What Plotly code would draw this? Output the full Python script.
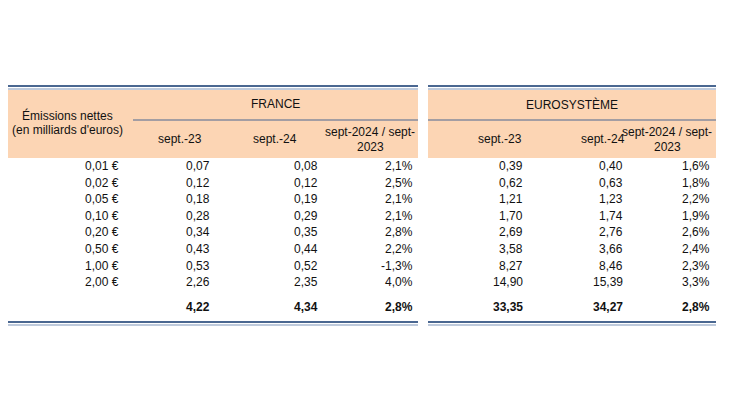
import plotly.graph_objects as go

denoms = ["0,01 €", "0,02 €", "0,05 €", "0,10 €", "0,20 €", "0,50 €", "1,00 €", "2,00 €"]
fr_23 = ["0,07", "0,12", "0,18", "0,28", "0,34", "0,43", "0,53", "2,26"]
fr_24 = ["0,08", "0,12", "0,19", "0,29", "0,35", "0,44", "0,52", "2,35"]
fr_var = ["2,1%", "2,5%", "2,1%", "2,1%", "2,8%", "2,2%", "-1,3%", "4,0%"]
eu_23 = ["0,39", "0,62", "1,21", "1,70", "2,69", "3,58", "8,27", "14,90"]
eu_24 = ["0,40", "0,63", "1,23", "1,74", "2,76", "3,66", "8,46", "15,39"]
eu_var = ["1,6%", "1,8%", "2,2%", "1,9%", "2,6%", "2,4%", "2,3%", "3,3%"]
totals = ["4,22", "4,34", "2,8%", "33,35", "34,27", "2,8%"]

FONT = "Liberation Sans, Arial, sans-serif"
PEACH = "#FCD5B4"
DARK = "#4A6791"
LIGHT = "#A9B9D0"

fig = go.Figure()
shapes = []
ann = []

def txt(x, y, s, anchor="center", bold=False):
    ann.append(dict(x=x, y=y, text=f"<b>{s}</b>" if bold else s, xanchor=anchor, yanchor="middle",
                    showarrow=False, font=dict(family=FONT, size=12, color="#111")))

blocks = [(2, 418), (428, 716)]
for x0, x1 in blocks:
    shapes.append(dict(type="rect", x0=x0, x1=x1, y0=90, y1=158, fillcolor=PEACH, line_width=0, layer="below"))
    for y in (86, 322):
        shapes.append(dict(type="line", x0=x0, x1=x1, y0=y, y1=y, line=dict(color=DARK, width=2)))
        shapes.append(dict(type="line", x0=x0, x1=x1, y0=y + 3, y1=y + 3, line=dict(color=LIGHT, width=1.5)))
shapes.append(dict(type="line", x0=133, x1=418, y0=120, y1=120, line=dict(color=DARK, width=1)))
shapes.append(dict(type="line", x0=428, x1=716, y0=120, y1=120, line=dict(color=DARK, width=1)))

txt(67, 115, "Émissions nettes")
txt(67, 130, "(en milliards d'euros)")
txt(275, 104, "FRANCE")
txt(572, 104, "EUROSYSTÈME")
txt(180, 139, "sept.-23")
txt(275, 139, "sept.-24")
txt(370, 132, "sept-2024 / sept-")
txt(370, 147, "2023")
txt(500, 139, "sept.-23")
txt(603, 139, "sept.-24")
txt(667, 132, "sept-2024 / sept-")
txt(667, 147, "2023")

col_x = [212, 320, 415, 525, 625, 712]
cols = [fr_23, fr_24, fr_var, eu_23, eu_24, eu_var]
for i, d in enumerate(denoms):
    y = 166 + i * 16.6
    txt(121, y, d, "right")
    for cx, c in zip(col_x, cols):
        txt(cx, y, c[i], "right")

txt(5, 307, "Total", "left", bold=True)
for cx, t in zip(col_x, totals):
    txt(cx, 307, t, "right", bold=True)

fig.update_layout(
    width=730, height=410, margin=dict(l=0, r=0, t=0, b=0),
    paper_bgcolor="white", plot_bgcolor="white",
    xaxis=dict(range=[8, 738], visible=False, fixedrange=True),
    yaxis=dict(range=[418, 8], visible=False, fixedrange=True),
    shapes=shapes, annotations=ann, showlegend=False,
)
fig.write_html("out.html")
